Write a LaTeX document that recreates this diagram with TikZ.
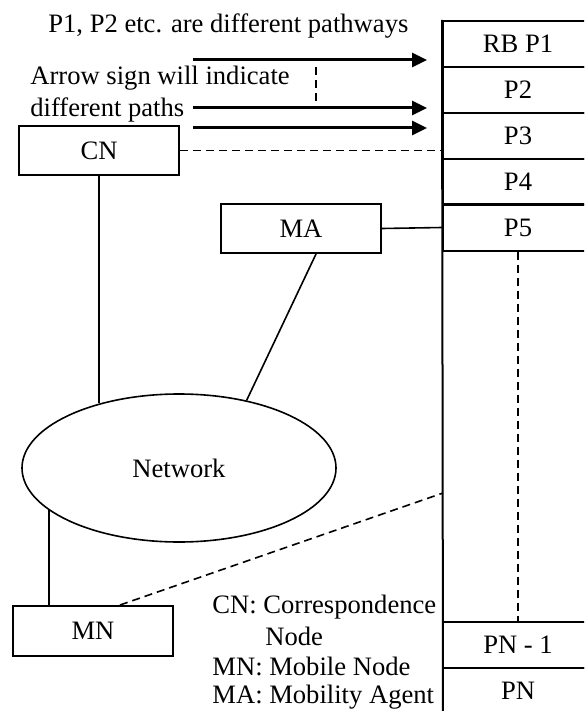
\documentclass[tikz,border=0pt]{standalone}
\usepackage{fontspec}
\setmainfont{Liberation Serif}
\usetikzlibrary{shapes.geometric,arrows.meta}

\begin{document}
\begin{tikzpicture}[x=0.5pt,y=-0.5pt,font=\fontsize{13.3}{16}\selectfont,
    box/.style={draw,line width=1pt,minimum width=80pt,minimum height=24.5pt,inner sep=0pt},
    cell/.style={draw,line width=1pt,minimum width=75pt,minimum height=23pt,inner sep=0pt},
    link/.style={line width=0.8pt},
    dlink/.style={line width=0.8pt,dash pattern=on 4pt off 2.5pt},
    path/.style={line width=1.5pt,-{Triangle[length=7.5pt,width=7pt]}}]
                \useasboundingbox (0,0) rectangle (584,711);
                \clip (0,0) rectangle (584,711);
                % column of pathways
                \node[cell] (P1) at (518,44) {RB P1};
                \node[cell] (P2) at (518,90) {P2};
                \node[cell] (P3) at (518,136) {P3};
                \node[cell] (P4) at (518,182) {P4};
                \node[cell] (P5) at (518,227.5) {P5};
                \node[cell] (PN1) at (518,644.5) {PN - 1};
                \node[cell] (PN) at (518,690.5) {PN};
                \coordinate (colend) at (443,720);
                \coordinate (tap) at (443,493);
                \draw[line width=1pt] (P1.north west)--(colend);
                \draw[dlink] (P5.south)--(PN1.north);
                % nodes
                \node[box] (CN) at (99,150.5) {CN};
                \node[box] (MA) at (301,228.5) {MA};
                \node[box,minimum height=25pt] (MN) at (93,631) {MN};
                \node[draw,ellipse,line width=0.8pt,minimum width=157pt,minimum height=74pt,inner sep=0pt] (net) at (179,468) {Network};
                \draw[link] (CN.south)--(CN.south |- net.141.5);
                \draw[link] ([xshift=7.5pt]MA.south)--(net.45.5);
                \draw[link] (MN.north -| net.198.5)--(net.198.5);
                \draw[link] (MA.east)--(P5.west);
                \draw[dlink] (CN.east)--(CN.east -| P3.west);
                \draw[dlink] ([xshift=13.5pt]MN.north)--(tap);
                % arrows
                \coordinate (a1) at (193,60);
                \coordinate (a2) at (193,108);
                \coordinate (a3) at (193,128);
                \draw[path] (a1)--(427,60);
                \draw[path] (a2)--(427,108);
                \draw[path] (a3)--(427,128);
                \coordinate (d1) at (316,67);
                \coordinate (d2) at (316,102);
                \draw[dlink] (d1)--(d2);
                % texts
                \node[anchor=base west,inner sep=0pt] (t1) at (48,33) {P1, P2 etc. are different pathways};
                \node[anchor=base west,inner sep=0pt] (t2) at (30,85) {Arrow sign will indicate};
                \node[anchor=base west,inner sep=0pt] (t3) at (30,117) {different paths};
                \node[anchor=base west,inner sep=0pt] (l1) at (212,613) {CN: Correspondence};
                \node[anchor=base west,inner sep=0pt] (l2) at (265,645) {Node};
                \node[anchor=base west,inner sep=0pt] (l3) at (212,675) {MN: Mobile Node};
                \node[anchor=base west,inner sep=0pt] (l4) at (212,703) {MA: Mobility Agent};
            \end{tikzpicture}
\end{document}
